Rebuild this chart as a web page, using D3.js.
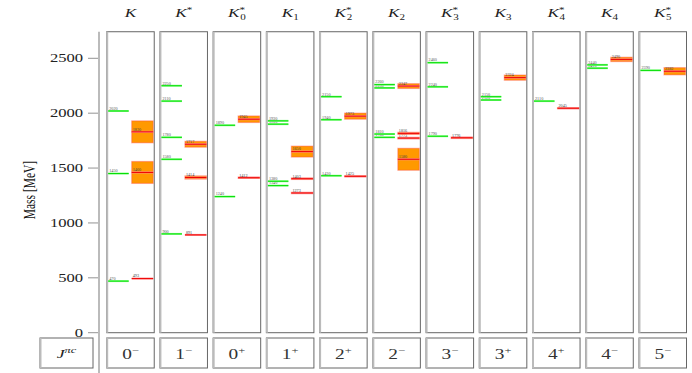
<!DOCTYPE html>
<html>
<head>
<meta charset="utf-8">
<script src="https://cdn.jsdelivr.net/npm/d3@7"></script>
<style>
  body { margin: 0; background: #fff; }
  svg { display: block; font-family: 'Liberation Serif', 'DejaVu Serif', serif; }
</style>
</head>
<body>
<svg id="chart"></svg>
<script>
// meson names: base + superscript + subscript
const titleSup = ['', '*', '*', '', '*', '', '*', '', '*', '', '*'];
const titleSub = ['', '', '0', '1', '2', '2', '3', '3', '4', '4', '5'];
// J^P labels
const jBase = ['0', '1', '0', '1', '2', '2', '3', '3', '4', '4', '5'];
const jSign = ['\u2212', '\u2212', '+', '+', '+', '\u2212', '\u2212', '+', '+', '\u2212', '\u2212'];

// predicted masses (green)
const theory = [
  [470, 1450, 2020],
  [900, 1580, 1780, 2110, 2250],
  [1240, 1890],
  [1340, 1380, 1900, 1930],
  [1430, 1940, 2150],
  [1780, 1810, 2230, 2260],
  [1790, 2240, 2460],
  [2120, 2150],
  [2110],
  [2410, 2440],
  [2390]
];
// measured masses (red) and half size of the error box
const expMass = [
  [493, 1460, 1830],
  [891, 1414, 1717],
  [1412, 1945],
  [1273, 1403, 1650],
  [1425, 1973],
  [1580, 1773, 1816, 2247],
  [1776],
  [2324],
  [2045],
  [2490],
  [2382]
];
const expErr = [
  [0, 100, 100],
  [0, 15, 27],
  [6, 30],
  [7, 7, 50],
  [5, 28],
  [100, 8, 10, 22],
  [7],
  [24],
  [5],
  [20],
  [33]
];
const yTicks = [0, 500, 1000, 1500, 2000, 2500];

const width = 692, height = 373;
const svg = d3.select('#chart').attr('width', width).attr('height', height);
const sx = 1.38; // the original figure is stretched sideways

const yMax = 2742;
const y = d3.scaleLinear().domain([0, 2500]).range([332.7, 58.3]);
const x = d3.scaleBand()
  .domain(d3.range(11))
  .range([106.7, 686.5])
  .paddingInner(0.107)
  .paddingOuter(0);
const bw = x.bandwidth();

function stretchedText(g, px, py) {
  return g.append('g')
    .attr('transform', `translate(${px},${py}) scale(${sx},1)`)
    .append('text');
}

// main axis line
svg.append('line')
  .attr('x1', 99).attr('x2', 99)
  .attr('y1', y(yMax)).attr('y2', height)
  .attr('stroke', '#bbb').attr('stroke-width', 2);

const axis = svg.append('g');
yTicks.forEach(t => {
  axis.append('line')
    .attr('x1', 88).attr('x2', 98)
    .attr('y1', y(t)).attr('y2', y(t))
    .attr('stroke', '#777').attr('stroke-width', 0.8);
  stretchedText(axis, 83, y(t) + 4)
    .attr('text-anchor', 'end')
    .attr('font-size', 12)
    .attr('fill', '#222')
    .text(t);
});

// y label
svg.append('g')
  .attr('transform', `translate(35,190) rotate(-90) scale(1,${sx})`)
  .append('text')
  .attr('text-anchor', 'middle')
  .attr('font-size', 11.5)
  .attr('fill', '#111')
  .text('Mass [MeV]');

function drawBox(px, top, w, h) {
  svg.append('rect')
    .attr('x', px).attr('y', top).attr('width', w).attr('height', h)
    .attr('fill', 'none').attr('stroke', '#666').attr('stroke-width', 1);
  svg.append('line')
    .attr('x1', px + 0.5).attr('x2', px + 0.5)
    .attr('y1', top).attr('y2', top + h)
    .attr('stroke', '#bbb').attr('stroke-width', 2);
}

// J^pc header box
drawBox(40, 338, 53, 30);
const jt = stretchedText(svg, 66.5, 358).attr('text-anchor', 'middle').attr('font-size', 13).attr('fill', '#222');
jt.append('tspan').attr('font-style', 'italic').text('J');
jt.append('tspan').attr('font-style', 'italic').attr('font-size', 9).attr('dy', -5).text('\u03c0c');

d3.range(11).forEach(i => {
  const left = x(i);
  const cx = left + bw / 2;

  drawBox(left, y(yMax), bw, y(0) - y(yMax));
  drawBox(left, 338, bw, 30);

  // title
  const tt = stretchedText(svg, cx, 17).attr('text-anchor', 'middle').attr('font-size', 12.5).attr('fill', '#222');
  tt.append('tspan').attr('font-style', 'italic').text('K');
  if (titleSup[i]) tt.append('tspan').attr('font-size', 8).attr('dy', -4.5).text(titleSup[i]);
  if (titleSub[i]) tt.append('tspan').attr('font-size', 8)
    .attr('dx', titleSup[i] ? -3.5 : 0)
    .attr('dy', titleSup[i] ? 7.5 : 3).text(titleSub[i]);

  // J^P label
  const jl = stretchedText(svg, cx, 359).attr('text-anchor', 'middle').attr('font-size', 14).attr('fill', '#333');
  jl.append('tspan').text(jBase[i]);
  jl.append('tspan').attr('font-size', 9).attr('dy', -6).text(jSign[i]);

  // predicted levels
  const gx0 = left + 1.5, gx1 = left + 22;
  theory[i].forEach(m => {
    svg.append('line')
      .attr('x1', gx0).attr('x2', gx1).attr('y1', y(m)).attr('y2', y(m))
      .attr('stroke', '#8f8').attr('stroke-width', 2);
    svg.append('line')
      .attr('x1', gx0).attr('x2', gx1).attr('y1', y(m)).attr('y2', y(m))
      .attr('stroke', '#0d0').attr('stroke-width', 1);
    svg.append('text')
      .attr('x', gx0 + 1).attr('y', y(m) - 1.2)
      .attr('font-size', 4.2).attr('fill', '#555')
      .text(m);
  });

  // measured levels
  const rx0 = left + 25, rx1 = left + 46.5;
  expMass[i].forEach((m, k) => {
    const e = expErr[i][k];
    if (e > 0) {
      svg.append('rect')
        .attr('x', rx0).attr('y', y(m + e))
        .attr('width', rx1 - rx0).attr('height', y(m - e) - y(m + e))
        .attr('fill', '#ff9900')
        .attr('stroke', 'rgba(255,60,60,0.35)').attr('stroke-width', 1.2);
    }
    svg.append('line')
      .attr('x1', rx0).attr('x2', rx1).attr('y1', y(m)).attr('y2', y(m))
      .attr('stroke', '#f88').attr('stroke-width', 2);
    svg.append('line')
      .attr('x1', rx0).attr('x2', rx1).attr('y1', y(m)).attr('y2', y(m))
      .attr('stroke', '#e00').attr('stroke-width', 1);
    svg.append('text')
      .attr('x', rx0 + 1).attr('y', y(m) - 1.2)
      .attr('font-size', 4.2).attr('fill', '#444')
      .text(m);
  });
});
</script>
</body>
</html>
